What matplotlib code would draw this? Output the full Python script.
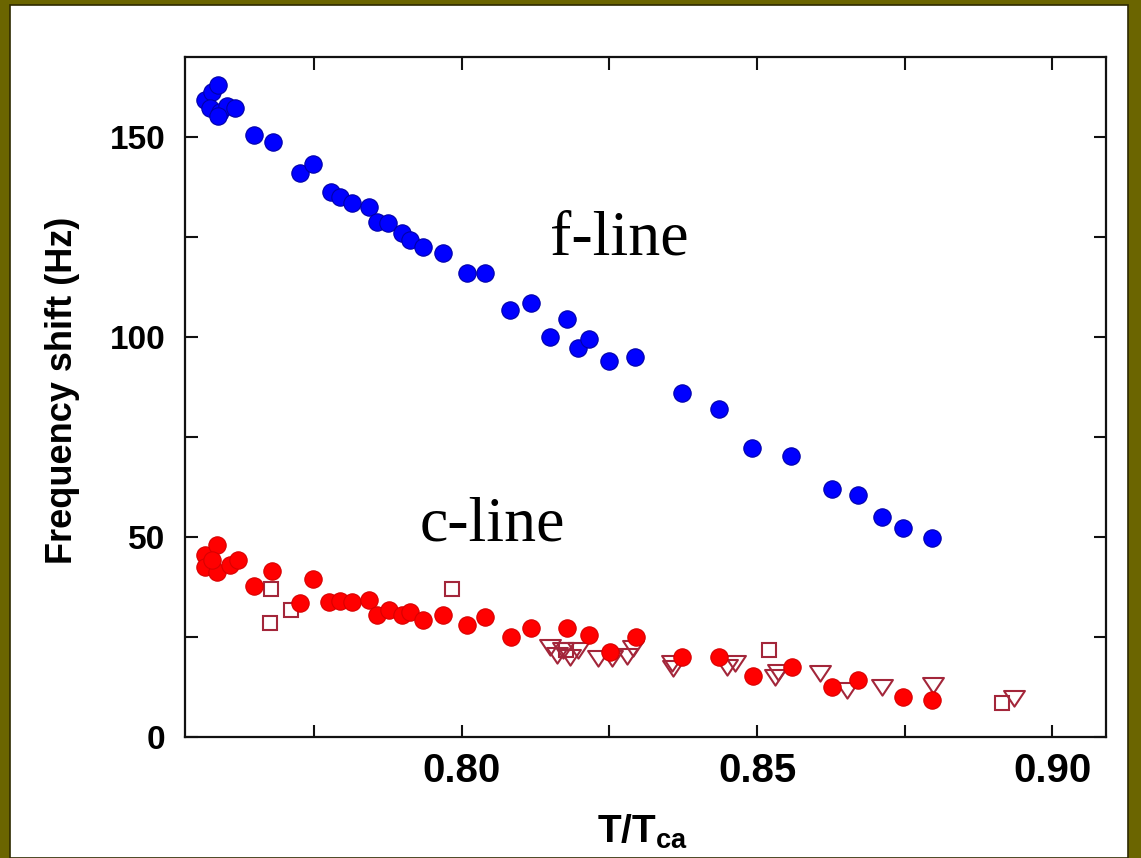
import numpy as np
import matplotlib
matplotlib.use("Agg")
import matplotlib.pyplot as plt
from matplotlib.patches import Rectangle
from matplotlib.path import Path
from matplotlib.ticker import MultipleLocator, FixedLocator

# f-line (blue, filled circles)
f_T = [0.7565, 0.7577, 0.7587, 0.7573, 0.7590, 0.7602, 0.7616, 0.7587,
       0.7648, 0.7680, 0.7726, 0.7748, 0.7778, 0.7793, 0.7814, 0.7842,
       0.7856, 0.7875, 0.7898, 0.7912, 0.7934, 0.7968, 0.8008, 0.8039,
       0.8081, 0.8117, 0.8149, 0.8178, 0.8196, 0.8215, 0.8249, 0.8293,
       0.8373, 0.8435, 0.8491, 0.8557, 0.8627, 0.8671, 0.8711, 0.8747,
       0.8796]
f_shift = [159.2, 161.2, 163.0, 157.2, 156.2, 157.8, 157.2, 155.2,
           150.5, 148.8, 141.0, 143.2, 136.2, 135.0, 133.5, 132.5,
           128.8, 128.5, 126.0, 124.2, 122.5, 121.0, 116.0, 116.0,
           106.8, 108.5, 100.0, 104.5, 97.2, 99.5, 94.0, 95.0,
           86.0, 82.0, 72.2, 70.2, 62.0, 60.5, 55.0, 52.2,
           49.8]

# c-line (red, filled circles)
c_T = [0.7565, 0.7585, 0.7565, 0.7585, 0.7607, 0.7621, 0.7577, 0.7678,
       0.7648, 0.7726, 0.7748, 0.7775, 0.7793, 0.7814, 0.7842, 0.7856,
       0.7876, 0.7898, 0.7912, 0.7934, 0.7968, 0.8008, 0.8039, 0.8083,
       0.8117, 0.8178, 0.8215, 0.8251, 0.8295, 0.8373, 0.8435, 0.8493,
       0.8559, 0.8627, 0.8671, 0.8747, 0.8796]
c_shift = [45.5, 48.0, 42.5, 41.2, 43.0, 44.2, 44.2, 41.5,
           37.8, 33.5, 39.5, 33.8, 34.0, 33.8, 34.2, 30.5,
           31.8, 30.5, 31.2, 29.2, 30.5, 28.0, 30.0, 25.0,
           27.2, 27.2, 25.5, 21.2, 25.0, 20.0, 20.0, 15.2,
           17.5, 12.5, 14.2, 10.0, 9.2]

# c-line, open squares
sq_T = [0.7676, 0.7675, 0.7710, 0.7983, 0.8176, 0.8520, 0.8915]
sq_shift = [37.0, 28.5, 31.8, 37.0, 21.8, 21.8, 8.5]

# c-line, open down triangles
tri_T = [0.8149, 0.8161, 0.8171, 0.8183, 0.8196, 0.8230, 0.8254, 0.8279,
         0.8290, 0.8356, 0.8357, 0.8449, 0.8462, 0.8530, 0.8535, 0.8606,
         0.8652, 0.8711, 0.8798, 0.8935]
tri_shift = [22.5, 20.5, 21.8, 20.0, 21.8, 19.8, 19.8, 20.2,
             22.2, 18.5, 17.2, 17.5, 18.5, 15.0, 16.2, 16.0,
             11.8, 12.5, 13.0, 9.8]

olive = "#6b6500"
open_red = "#a3263a"
# flat-topped triangle, a bit wider than tall
tri_marker = Path([(-1, 0.72), (1, 0.72), (0, -0.78), (-1, 0.72)], closed=True)

plt.rcParams["mathtext.fontset"] = "custom"
plt.rcParams["mathtext.bf"] = "Liberation Sans:bold"
plt.rcParams["mathtext.rm"] = "Liberation Sans:bold"

fig = plt.figure(figsize=(11.41, 8.58), dpi=100, facecolor=olive)
# white panel inside the olive frame
fig.patches.append(Rectangle((10 / 1141, 0), 1118 / 1141, 1 - 5 / 858,
                             transform=fig.transFigure, facecolor="white",
                             edgecolor="#2e2a00", linewidth=1.2, zorder=-10))

ax = fig.add_axes([185 / 1141, 1 - 737 / 858, 921 / 1141, 680 / 858])
ax.set_facecolor("white")

ax.plot(sq_T, sq_shift, linestyle="none", marker="s", markersize=10,
        markerfacecolor="none", markeredgecolor=open_red, markeredgewidth=1.5)
ax.plot(tri_T, tri_shift, linestyle="none", marker=tri_marker, markersize=15,
        markerfacecolor="none", markeredgecolor=open_red, markeredgewidth=1.5)
ax.plot(c_T, c_shift, linestyle="none", marker="o", markersize=12.5,
        markerfacecolor="#ff0000", markeredgecolor="#d80000", markeredgewidth=0.8)
ax.plot(f_T, f_shift, linestyle="none", marker="o", markersize=12.5,
        markerfacecolor="#0000ff", markeredgecolor="#0000a8", markeredgewidth=0.8)

ax.set_xlim(0.7531, 0.9091)
ax.set_ylim(0, 170)

ax.xaxis.set_major_locator(FixedLocator([0.80, 0.85, 0.90]))
ax.xaxis.set_minor_locator(FixedLocator([0.775, 0.825, 0.875]))
ax.yaxis.set_major_locator(MultipleLocator(50))
ax.yaxis.set_minor_locator(MultipleLocator(25))
ax.tick_params(which="both", direction="in", top=True, right=True,
               width=1.5, length=9, color="#111111")
ax.tick_params(axis="y", which="major", labelsize=24, pad=14)
ax.tick_params(axis="x", which="major", labelsize=29, pad=11)
ax.set_xticklabels(["0.80", "0.85", "0.90"])
for lab in ax.get_xticklabels() + ax.get_yticklabels():
    lab.set_fontweight("bold")
    lab.set_family("Liberation Sans")

for sp in ax.spines.values():
    sp.set_linewidth(1.6)
    sp.set_color("#111111")

ax.set_ylabel("Frequency shift (Hz)", family="Liberation Sans",
              fontweight="bold", fontsize=26)
ax.yaxis.set_label_coords(-0.114, 0.51)
ax.set_xlabel(r"$\mathbf{T/T_{ca}}$", fontsize=28)
ax.xaxis.set_label_coords(0.497, -0.112)

ax.text(0.8149, 120.5, "f-line", family="Liberation Serif", fontsize=46,
        ha="left", va="baseline")
ax.text(0.7929, 49.2, "c-line", family="Liberation Serif", fontsize=46,
        ha="left", va="baseline")

fig.savefig("out.png", dpi=100, facecolor=olive)
